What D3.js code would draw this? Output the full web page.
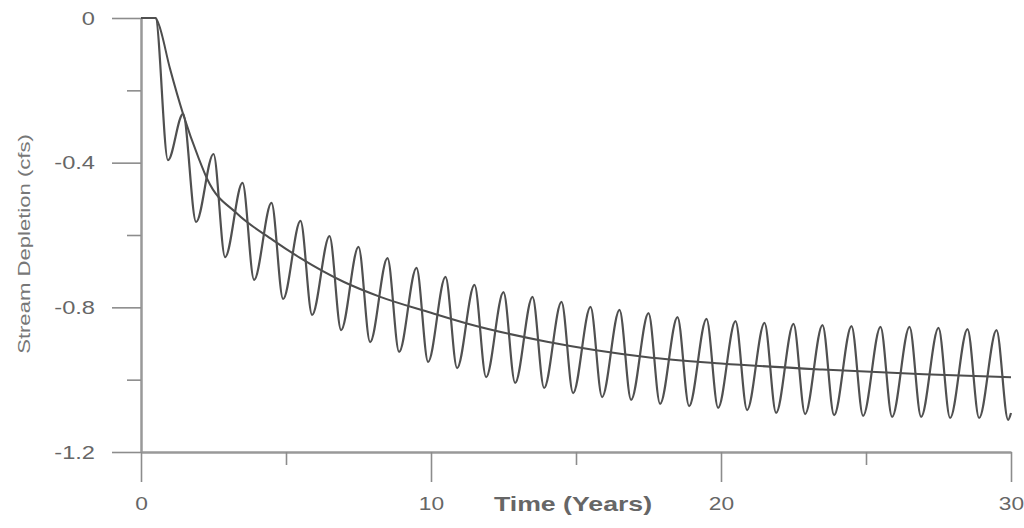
<!DOCTYPE html>
<html>
<head>
<meta charset="utf-8">
<script src="https://cdn.jsdelivr.net/npm/d3@7"></script>
<style>
  body { margin: 0; background: #fff; }
  svg { display: block; }
  text { font-family: "Liberation Sans", Arial, sans-serif; fill: #666; }
</style>
</head>
<body>
<script>
// values (years, cfs)
var peakYears = [1.45, 2.5, 3.5, 4.5, 5.5, 6.5, 7.5, 8.5, 9.5, 10.5, 11.5, 12.5, 13.5, 14.5, 15.5, 16.5, 17.5, 18.5, 19.5, 20.5, 21.5, 22.5, 23.5, 24.5, 25.5, 26.5, 27.5, 28.5, 29.5];
var peakValues = [-0.265, -0.376, -0.456, -0.511, -0.561, -0.603, -0.633, -0.664, -0.691, -0.716, -0.738, -0.758, -0.771, -0.785, -0.799, -0.807, -0.816, -0.827, -0.832, -0.838, -0.843, -0.846, -0.849, -0.852, -0.854, -0.854, -0.857, -0.860, -0.863];
var troughYears = [0.93, 1.9, 2.9, 3.9, 4.9, 5.9, 6.9, 7.9, 8.9, 9.9, 10.9, 11.9, 12.9, 13.9, 14.9, 15.9, 16.9, 17.9, 18.9, 19.9, 20.9, 21.9, 22.9, 23.9, 24.9, 25.9, 26.9, 27.9, 28.9, 29.9];
var troughValues = [-0.393, -0.564, -0.661, -0.724, -0.777, -0.821, -0.863, -0.896, -0.923, -0.951, -0.968, -0.993, -1.009, -1.023, -1.037, -1.048, -1.056, -1.067, -1.073, -1.078, -1.084, -1.092, -1.095, -1.098, -1.100, -1.103, -1.103, -1.106, -1.106, -1.111];
var oscEndYears = [0, 0.5, 30];
var oscEndValues = [0, 0, -1.092];

var meanYears = [0, 0.5, 0.6, 1.0, 1.45, 2.0, 2.3, 3.3, 4.55, 5.5, 7, 8.25, 10, 11.3, 14, 17.4, 20, 23.5, 27, 30];
var meanValues = [0, 0, -0.015, -0.14, -0.265, -0.39, -0.448, -0.54, -0.614, -0.664, -0.73, -0.771, -0.815, -0.846, -0.895, -0.937, -0.955, -0.972, -0.985, -0.993];

var yMajor = [0, -0.4, -0.8, -1.2];
var yMinor = [-0.2, -0.6, -1.0];
var xMajor = [0, 10, 20, 30];
var xMinor = [5, 15, 25];

var width = 1024, height = 528;

var osc = [];
peakYears.forEach(function(t, i){ osc.push({t: t, v: peakValues[i]}); });
troughYears.forEach(function(t, i){ osc.push({t: t, v: troughValues[i]}); });
oscEndYears.forEach(function(t, i){ osc.push({t: t, v: oscEndValues[i]}); });
osc.sort(function(a, b){ return a.t - b.t; });
var mean = meanYears.map(function(t, i){ return {t: t, v: meanValues[i]}; });

var x = d3.scaleLinear().domain([0, 30]).range([141, 1011]);
var y = d3.scaleLinear().domain([-1.2, 0]).range([452, 18]);

var svg = d3.select("body").append("svg")
  .attr("width", width).attr("height", height);

var fmt = function(d){ return d === 0 ? "0" : d.toFixed(1); };

// y axis, long ticks labelled, short ones between
var yAxisG = svg.append("g").attr("transform", "translate(" + x(0) + ",0)");
yAxisG.call(d3.axisLeft(y).tickValues(yMajor).tickSize(29).tickSizeOuter(0).tickFormat(fmt));
yAxisG.append("g").call(d3.axisLeft(y).tickValues(yMinor).tickSize(14).tickFormat(""))
  .select(".domain").remove();
yAxisG.selectAll("text")
  .attr("x", 0).attr("dy", "0.36em")
  .attr("transform", "translate(-46,0) scale(1.35,1)")
  .style("font-size", "17.5px").style("fill", "#666");

// x axis
var xAxisG = svg.append("g").attr("transform", "translate(0," + y(-1.2) + ")");
xAxisG.call(d3.axisBottom(x).tickValues(xMajor).tickSize(30).tickSizeOuter(0).tickFormat(d3.format("d")));
xAxisG.append("g").call(d3.axisBottom(x).tickValues(xMinor).tickSize(13).tickFormat(""))
  .select(".domain").remove();
xAxisG.selectAll("text")
  .attr("y", 0).attr("dy", 0)
  .attr("transform", "translate(0,58) scale(1.3,1)")
  .style("font-size", "17.5px").style("fill", "#666");

svg.selectAll(".domain").attr("stroke", "#999").attr("stroke-width", 2.5);
svg.selectAll(".tick line").attr("stroke", "#8c8c8c").attr("stroke-width", 1.6);

// axis titles
svg.append("text")
  .attr("transform", "translate(573,511) scale(1.27,1)")
  .attr("text-anchor", "middle")
  .style("font-size", "21px").style("font-weight", "bold").style("fill", "#666")
  .text("Time (Years)");

svg.append("text")
  .attr("transform", "translate(30,244) rotate(-90) scale(1.3,1)")
  .attr("text-anchor", "middle")
  .style("font-size", "17px").style("fill", "#777")
  .text("Stream Depletion (cfs)");

// data
var line = d3.line()
  .x(function(d){ return x(d.t); })
  .y(function(d){ return y(d.v); })
  .curve(d3.curveMonotoneX);

svg.append("path")
  .attr("d", line(mean))
  .attr("fill", "none")
  .attr("stroke", "#4d4d4d")
  .attr("stroke-width", 2);

svg.append("path")
  .attr("d", line(osc))
  .attr("fill", "none")
  .attr("stroke", "#505050")
  .attr("stroke-width", 2.2);
</script>
</body>
</html>
